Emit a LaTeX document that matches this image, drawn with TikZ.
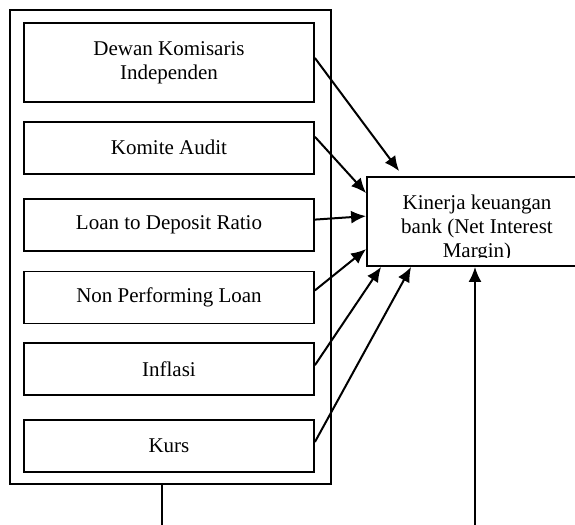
\documentclass[tikz,border=0pt]{standalone}
\usepackage{fontspec}
\setmainfont{Liberation Serif}
\usetikzlibrary{arrows.meta,positioning,calc}
\tikzset{
    varbox/.style={draw, line width=0.9pt, minimum width=145pt, minimum height=26pt, align=center},
    outerbox/.style={draw, line width=0.7pt, minimum width=160.5pt, minimum height=237pt},
    target/.style={draw, line width=0.9pt, minimum width=110pt, minimum height=44.5pt},
    effect/.style={-{Latex[length=7.5pt, width=6.5pt]}, line width=1pt}
}

\begin{document}
\begin{tikzpicture}[x=0.5pt, y=-0.5pt, font=\fontsize{10.5}{12}\selectfont]
    \clip (0,0) rectangle (575,525);
    \node[outerbox] (frame) at (170.5,247) {};
    \node[varbox, minimum height=39.5pt] (dki) at (169,62.5) {Dewan Komisaris\\Independen};
    \node[varbox, below=9pt of dki] (ka) {Komite Audit};
    \node[varbox, below=11.5pt of ka] (ldr) {Loan to Deposit Ratio};
    \node[varbox, below=9.5pt of ldr] (npl) {Non Performing Loan};
    \node[varbox, below=9pt of npl] (inf) {Inflasi};
    \node[varbox, below=11.5pt of inf] (kurs) {Kurs};

    \node[target] (nim) at (477,221.5) {};
    \begin{scope}
        % the text box cuts off the last line
        \clip (nim.north west) rectangle ([yshift=4.5pt]nim.south east);
        \node[align=center] (nimtext) at ([yshift=-3.25pt]nim.center) {Kinerja keuangan\\bank (Net Interest\\Margin)};
    \end{scope}

    \draw[effect] ([yshift=2.25pt]dki.east) -- ([xshift=16.5pt, yshift=2.5pt]nim.north west);
    \draw[effect] ([yshift=5.5pt]ka.east) -- ([yshift=-8.5pt]nim.north west);
    \draw[effect] ([yshift=2.5pt]ldr.east) -- ([yshift=-20pt]nim.north west);
    \draw[effect] ([yshift=3.5pt]npl.east) -- ([yshift=-36.5pt]nim.north west);
    \draw[effect] ([yshift=2pt]inf.east) -- ([xshift=7.5pt]nim.south west);
    \draw[effect] ([yshift=2pt]kurs.east) -- ([xshift=22.5pt]nim.south west);

    \coordinate (leftend) at (162,525);
    \coordinate (rightend) at (475,525);
    \draw[line width=0.6pt] (frame.south -| leftend) -- (leftend);
    \draw[effect] (rightend) -- (nim.south -| rightend);
\end{tikzpicture}
\end{document}
